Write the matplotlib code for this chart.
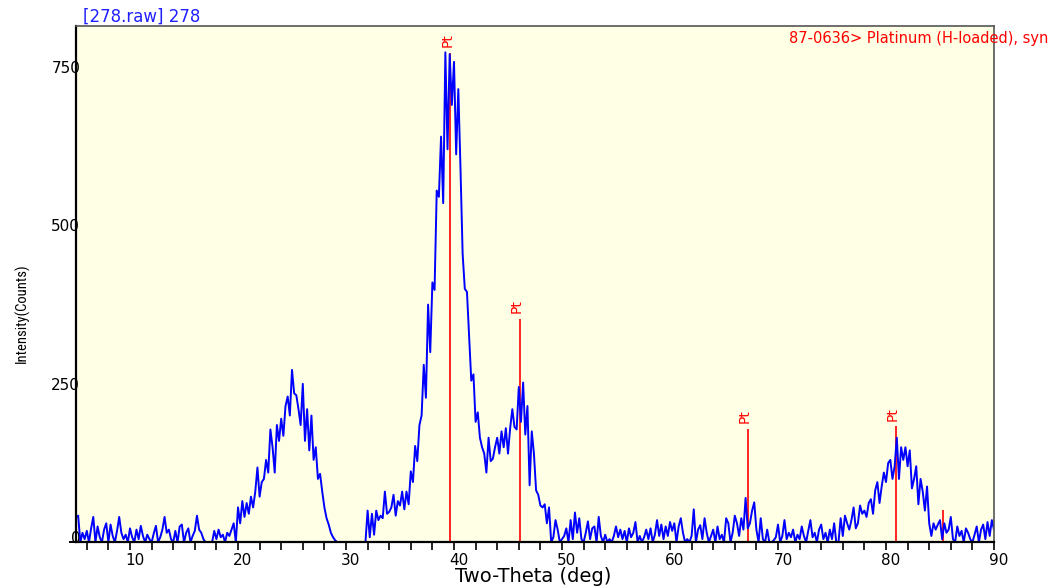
import numpy as np
import matplotlib
matplotlib.use("Agg")
import matplotlib.pyplot as plt
from matplotlib import font_manager as fm
from matplotlib.transforms import ScaledTranslation

# ---------------- data ----------------
step_deg = 0.2

start_a = 5.0
counts_a = [40, 42, 0, 15, 5, 18, 0, 22, 40, 0,
            25, 8, 0, 20, 30, 0, 28, 10, 0, 18,
            40, 15, 5, 12, 0, 22, 8, 0, 20, 5,
            26, 10, 0, 12, 5, 0, 14, 26, 0, 8,
            20, 40, 15, 20, 5, 0, 18, 0, 25, 28,
            0, 15, 22, 0, 10, 18, 42, 20, 15, 5,
            0, 0, 0, 0, 18, 5, 20, 8, 12, 0,
            15, 10, 20, 30, 0]

start_b = 20.0
counts_b = [55, 30, 65, 40, 62, 45, 72, 55, 80, 118,
            72, 95, 100, 130, 110, 178, 150, 110, 185, 160,
            195, 168, 215, 230, 200, 272, 235, 232, 210, 185,
            250, 160, 210, 145, 200, 130, 150, 100, 108, 80,
            55, 38, 28, 15, 8, 3, 0, 0, 0, 0,
            0, 0, 0, 0, 0, 0, 0, 0, 0, 0]

start_c = 32.0
counts_c = [50, 8, 45, 12, 50, 35, 42, 38, 80, 45,
            48, 55, 75, 42, 65, 58, 80, 52, 80, 60,
            112, 95, 152, 128, 185, 200, 280, 228, 375, 300,
            410, 398, 555, 545, 640, 535, 773, 620, 770, 690,
            758, 612, 715, 590, 455, 400, 395, 325, 255, 265,
            190, 205, 165, 150, 140, 110, 165, 128, 132, 150,
            165, 140, 175, 150, 180, 140, 180, 210, 182, 178,
            245, 190, 252, 170, 215, 90, 175, 140, 82, 75,
            58, 55, 60, 30, 55, 0, 8, 35, 20, 0]

start_d = 50.0
counts_d = [5, 10, 22, 0, 35, 5, 47, 15, 38, 5,
            0, 15, 33, 5, 22, 25, 0, 40, 10, 0,
            12, 0, 5, 0, 10, 25, 8, 20, 5, 18,
            0, 22, 8, 15, 32, 0, 10, 0, 8, 20,
            5, 22, 0, 12, 35, 10, 28, 5, 25, 10,
            32, 18, 30, 0, 25, 38, 15, 0, 5, 0,
            10, 52, 0, 20, 27, 5, 38, 15, 0, 10,
            20, 0, 25, 5, 12, 0, 38, 30, 0, 15,
            42, 30, 10, 38, 20, 70, 22, 30, 50, 63,
            20, 0, 38, 5, 0, 20, 0, 0, 3, 8,
            28, 0, 10, 35, 5, 15, 8, 20, 0, 12]

start_e = 72.0
counts_e = [5, 25, 10, 0, 18, 35, 8, 15, 0, 20,
            28, 5, 15, 0, 20, 5, 30, 0, 0, 38,
            10, 42, 30, 20, 35, 55, 22, 30, 58, 45,
            50, 40, 62, 68, 45, 82, 95, 62, 88, 110,
            95, 125, 130, 100, 120, 165, 100, 150, 130, 150,
            120, 145, 85, 100, 120, 60, 100, 80, 50, 88,
            30, 10, 30, 20, 28, 35, 5, 30, 15, 20,
            40, 5, 0, 25, 10, 18, 0, 22, 15, 5,
            0, 12, 25, 0, 20, 28, 5, 32, 10, 35, 20]

segment_starts = [start_a, start_b, start_c, start_d, start_e]
segment_counts = [counts_a, counts_b, counts_c, counts_d, counts_e]

# reference pattern 87-0636 Platinum (H-loaded), syn
ref_positions = [39.63, 46.08, 67.2, 80.9, 85.3]
ref_heights = [772, 353, 179, 183, 51]
ref_labels = ["Pt", "Pt", "Pt", "Pt", ""]

x_ticks_major = [10, 20, 30, 40, 50, 60, 70, 80, 90]
y_ticks = [0, 250, 500, 750]

title_text = "[278.raw] 278"
card_text = "87-0636> Platinum (H-loaded), syn"
x_label = "Two-Theta (deg)"
y_label = "Intensity(Counts)"

# ---------------- build series ----------------
two_theta = np.concatenate([s + step_deg * np.arange(len(c))
                            for s, c in zip(segment_starts, segment_counts)])
intensity = np.concatenate([np.asarray(c, float) for c in segment_counts])

# ---------------- figure ----------------
W, H, DPI = 1054, 588, 100
fig = plt.figure(figsize=(W / DPI, H / DPI), dpi=DPI)
fig.patch.set_facecolor("white")

L, R, B, T = 76, 994, 542.3, 25.7
ax = fig.add_axes([L / W, 1 - B / H, (R - L) / W, (B - T) / H])
ax.set_facecolor("#FFFFE6")

ax.set_xlim(5, 90)
ax.set_ylim(0, 815)

names = {f.name for f in fm.fontManager.ttflist}
narrow, narrow_size = "Liberation Sans", 8.5
for cand in ["Roboto Condensed", "Liberation Sans Narrow", "DejaVu Sans Condensed",
             "Open Sans Condensed"]:
    if cand in names:
        narrow, narrow_size = cand, 10.5
        break

# reference sticks
for pos, h, lab in zip(ref_positions, ref_heights, ref_labels):
    ax.vlines(pos, 0, h, color="#FF0000", lw=1.2, zorder=2)
    if lab:
        ax.annotate(lab, xy=(pos, h), xytext=(-2, 4), textcoords="offset points",
                    rotation=90, ha="center", va="bottom", color="#FF0000",
                    fontsize=10, family="DejaVu Sans", zorder=2)

# measured pattern
ax.plot(two_theta, intensity, color="#0000FF", lw=1.4, zorder=3)

# spines
for side in ["left", "bottom"]:
    ax.spines[side].set_color("black")
    ax.spines[side].set_linewidth(1.6)
for side in ["top", "right"]:
    ax.spines[side].set_color("#555555")
    ax.spines[side].set_linewidth(1.2)
for sp in ax.spines.values():
    sp.set_zorder(5)

# x ticks
ax.set_xticks(x_ticks_major)
ax.set_xticks(np.arange(6, 90, 2), minor=True)
ax.tick_params(axis="x", which="both", direction="out", length=5.5, width=1.2,
               color="black", labelsize=11, pad=2)
off = ScaledTranslation(5 / DPI, 0, fig.dpi_scale_trans)
for lab in ax.get_xticklabels():
    lab.set_transform(lab.get_transform() + off)
    lab.set_family("DejaVu Sans")

# y ticks
ax.set_yticks(y_ticks)
ax.tick_params(axis="y", which="both", length=0, labelsize=11, pad=-3)
for lab in ax.get_yticklabels():
    lab.set_family("DejaVu Sans")
    lab.set_zorder(1)
ylabs = ax.get_yticklabels()
ylabs[0].set_transform(ylabs[0].get_transform() + ScaledTranslation(0, 5.5 / DPI, fig.dpi_scale_trans))
ax.plot([-6 / (R - L), 0], [0, 0], transform=ax.transAxes, color="black",
        lw=1.4, clip_on=False, zorder=5)

# labels
ax.set_xlabel(x_label, fontsize=14, family="DejaVu Sans")
ax.xaxis.set_label_coords(0.5 + (533 - (L + R) / 2) / (R - L), (B - 577) / (B - T))
ax.xaxis.label.set_va("center")

ax.set_ylabel(y_label, fontsize=narrow_size, family=narrow)
ax.yaxis.set_label_coords((22 - L) / (R - L), (B - 313.5) / (B - T))
ax.yaxis.label.set_va("center")
ax.yaxis.label.set_ha("center")

fig.text(83 / W, 1 - 16.7 / H, title_text, color="#1f1fff", fontsize=12,
         ha="left", va="center", family="DejaVu Sans")
fig.text(1048 / W, 1 - 39 / H, card_text, color="#FF0000", fontsize=10.5,
         ha="right", va="center", family="DejaVu Sans", zorder=1)

fig.savefig("out.png", dpi=DPI, facecolor="white")
